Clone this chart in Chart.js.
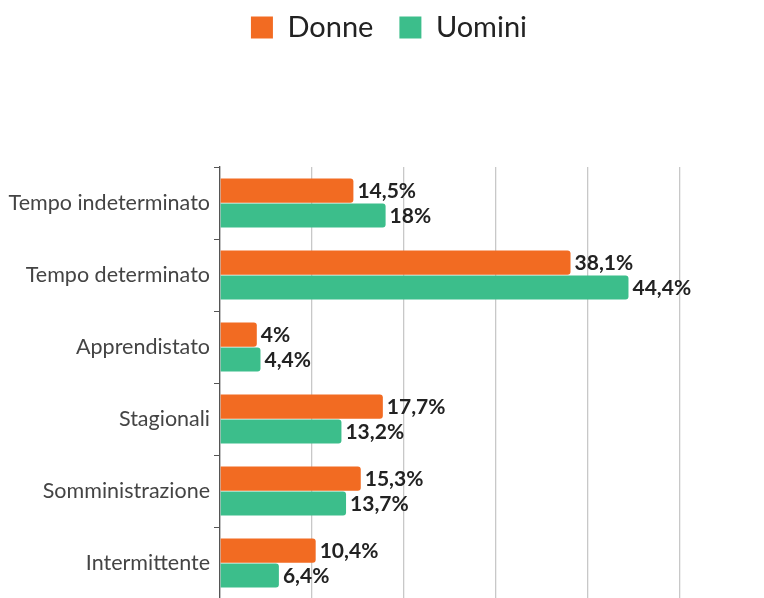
<!DOCTYPE html>
<html>
<head>
<meta charset="utf-8">
<script src="https://cdn.jsdelivr.net/npm/chart.js@4"></script>
<style>
  html, body { margin: 0; padding: 0; background: #fff; overflow: hidden; }
  #wrap { width: 764px; height: 616px; }
</style>
</head>
<body>
<div id="wrap"><canvas id="chart" width="764" height="616"></canvas></div>
<script>
// data
const categories = ["Tempo indeterminato", "Tempo determinato", "Apprendistato", "Stagionali", "Somministrazione", "Intermittente"];
const donne = [14.5, 38.1, 4, 17.7, 15.3, 10.4];
const uomini = [18, 44.4, 4.4, 13.2, 13.7, 6.4];

const fmt = (v) => String(v).replace(".", ",") + "%";

// push the plot down away from the legend, and nudge the legend into place
const legendGap = {
  id: "legendGap",
  beforeInit(chart) {
    const fit = chart.legend.fit;
    chart.legend.fit = function () {
      fit.bind(chart.legend)();
      this.height += 102;
    };
  },
  afterLayout(chart) {
    const lg = chart.legend;
    lg.left += 49;
    lg.right += 49;
    lg.top -= 13;
    lg.bottom -= 13;
  },
};

// value labels at the end of each bar
const barLabels = {
  id: "barLabels",
  afterDatasetsDraw(chart) {
    const ctx = chart.ctx;
    ctx.save();
    ctx.font = "bold 21px Lato";
    ctx.fillStyle = "#222";
    ctx.textBaseline = "middle";
    ctx.textAlign = "left";
    chart.data.datasets.forEach((ds, i) => {
      chart.getDatasetMeta(i).data.forEach((bar, j) => {
        ctx.fillText(fmt(ds.data[j]), bar.x + 4, bar.y + 1);
      });
    });
    ctx.restore();
  },
};

const chart = new Chart(document.getElementById("chart"), {
  type: "bar",
  data: {
    labels: categories,
    datasets: [
      { label: "Donne", data: donne, backgroundColor: "#F26B22", borderRadius: 3, borderSkipped: "start" },
      { label: "Uomini", data: uomini, backgroundColor: "#3CBE8B", borderRadius: 3, borderSkipped: "start" },
    ],
  },
  options: {
    indexAxis: "y",
    responsive: false,
    animation: false,
    layout: { padding: { top: 0, right: 84, left: 0, bottom: 0 } },
    datasets: {
      bar: { categoryPercentage: 0.69, barPercentage: 0.97 },
    },
    plugins: {
      tooltip: { enabled: false },
      legend: {
        position: "top",
        labels: {
          font: { family: "Lato", size: 29 },
          color: "#222",
          boxWidth: 22,
          boxHeight: 22,
          padding: 26,
        },
      },
      title: { display: false },
    },
    scales: {
      x: {
        min: 0,
        max: 50,
        ticks: { display: false, stepSize: 10 },
        grid: { color: "#c8c8c8", lineWidth: 1.3, drawTicks: false },
        border: { display: false },
      },
      y: {
        afterFit(scale) {
          scale.width = 220;
        },
        ticks: {
          font: { family: "Lato", size: 21.5 },
          color: "#444",
          padding: 4,
        },
        grid: { drawOnChartArea: false, offset: true, tickLength: 6, color: "#555" },
        border: { color: "#555", width: 1.3 },
      },
    },
  },
  plugins: [legendGap, barLabels],
});
</script>
</body>
</html>
